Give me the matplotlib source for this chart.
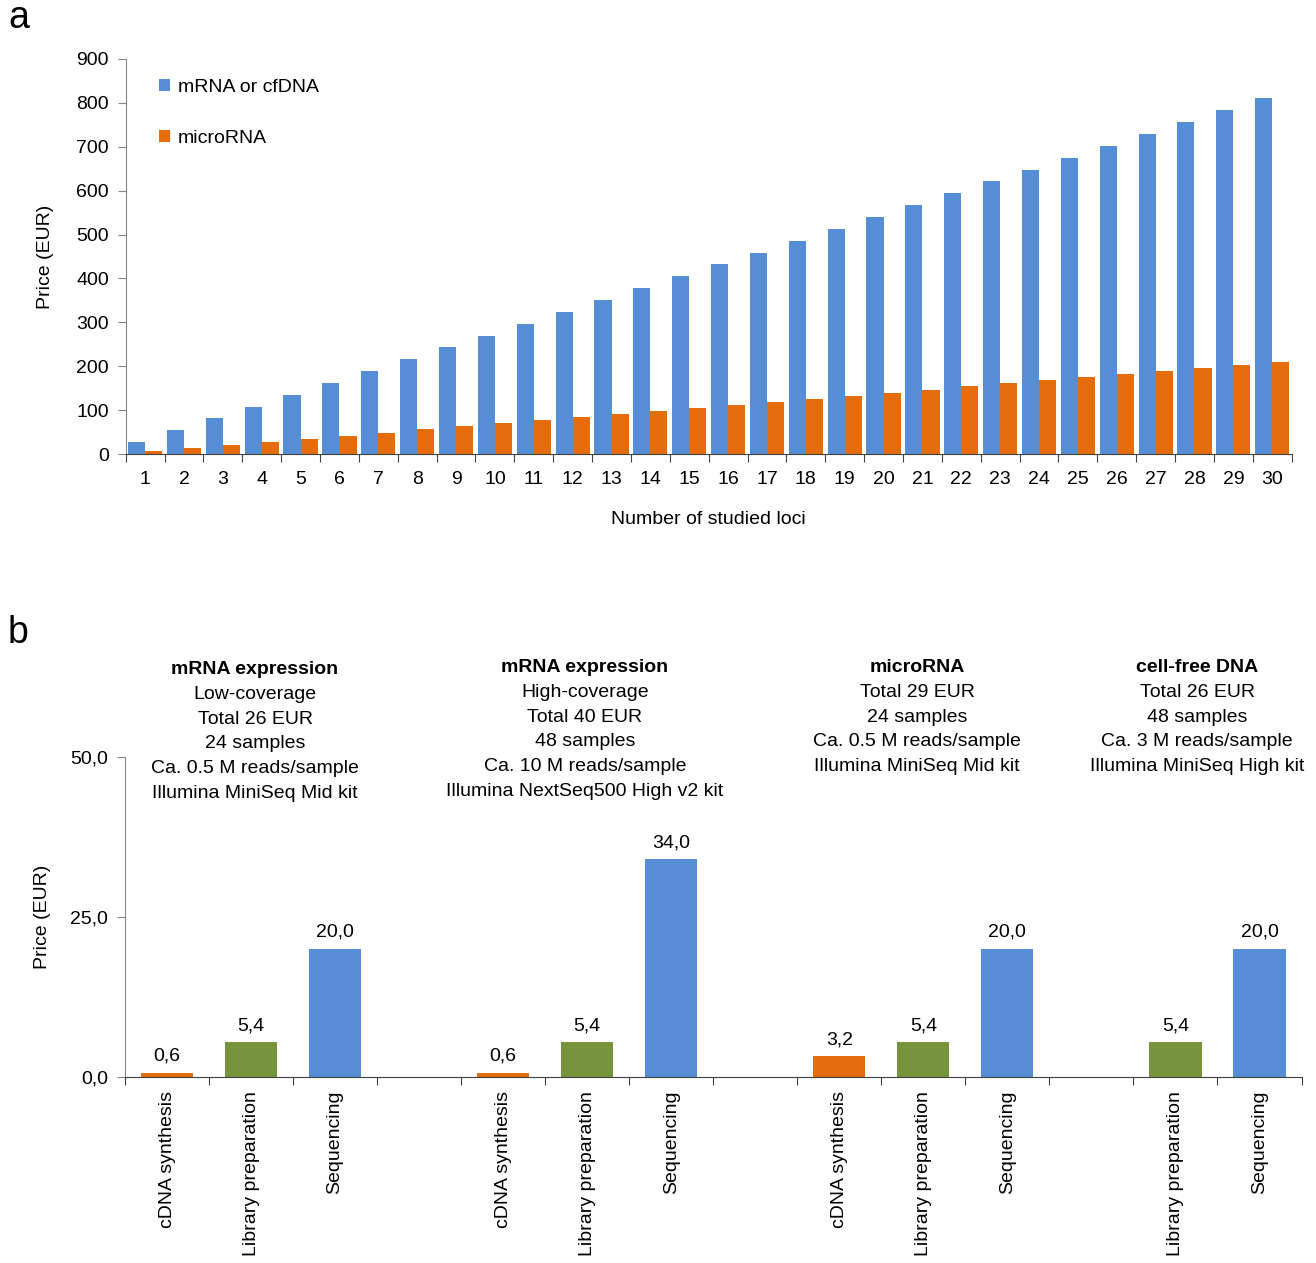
import numpy as np
import matplotlib.pyplot as plt
from matplotlib.ticker import FixedLocator, NullFormatter, FixedFormatter

plt.rcParams['font.family'] = ['Liberation Sans', 'DejaVu Sans']

# panel a: price vs number of loci
loci = list(range(1, 31))
price_mrna = [27, 54, 81, 108, 135, 162, 189, 216, 243, 270,
              297, 324, 351, 378, 405, 432, 459, 486, 513, 540,
              567, 594, 621, 648, 675, 702, 729, 756, 783, 810]
price_mirna = [7, 14, 21, 28, 35, 42, 49, 56, 63, 70,
               77, 84, 91, 98, 105, 112, 119, 126, 133, 140,
               147, 154, 161, 168, 175, 182, 189, 196, 203, 210]

# panel b: per-sample cost of each step, blank slots separate the workflows
steps = ['cDNA synthesis', 'Library preparation', 'Sequencing', '',
         'cDNA synthesis', 'Library preparation', 'Sequencing', '',
         'cDNA synthesis', 'Library preparation', 'Sequencing', '',
         'Library preparation', 'Sequencing']
step_cost = [0.6, 5.4, 20.0, np.nan,
             0.6, 5.4, 34.0, np.nan,
             3.2, 5.4, 20.0, np.nan,
             5.4, 20.0]
workflow_titles = ['mRNA expression', 'mRNA expression', 'microRNA', 'cell-free DNA']
workflow_details = [
    ['Low-coverage', 'Total 26 EUR', '24 samples',
     'Ca. 0.5 M reads/sample', 'Illumina MiniSeq Mid kit'],
    ['High-coverage', 'Total 40 EUR', '48 samples',
     'Ca. 10 M reads/sample', 'Illumina NextSeq500 High v2 kit'],
    ['Total 29 EUR', '24 samples',
     'Ca. 0.5 M reads/sample', 'Illumina MiniSeq Mid kit'],
    ['Total 26 EUR', '48 samples',
     'Ca. 3 M reads/sample', 'Illumina MiniSeq High kit'],
]

BLUE = '#558ed5'
ORANGE = '#e46c0a'
GREEN = '#77933c'
step_colors = {'cDNA synthesis': ORANGE, 'Library preparation': GREEN,
               'Sequencing': BLUE, '': 'none'}
FS = 14


def style_axes(ax):
    for side in ('top', 'right'):
        ax.spines[side].set_visible(False)
    ax.spines['left'].set_color('#868686')
    ax.spines['bottom'].set_color('#404040')
    ax.tick_params(axis='y', direction='out', length=6, color='#868686',
                   labelsize=FS, pad=6)


def category_ticks(ax, n, labels, rotation=0, pad=10):
    # tick marks on category borders, labels in the middle of each slot
    ax.xaxis.set_major_locator(FixedLocator(np.arange(n + 1) - 0.5))
    ax.xaxis.set_major_formatter(NullFormatter())
    ax.xaxis.set_minor_locator(FixedLocator(np.arange(n)))
    ax.xaxis.set_minor_formatter(FixedFormatter(labels))
    ax.tick_params(axis='x', which='major', direction='out', length=6,
                   color='#404040')
    ax.tick_params(axis='x', which='minor', length=0, labelsize=FS,
                   pad=pad, labelrotation=rotation)


fig = plt.figure(figsize=(13.16, 12.63), dpi=100)

# ---- panel a
ax_a = fig.add_axes([0.0955, 0.6405, 0.886, 0.3128])
x = np.arange(len(loci))
w = 0.44
ax_a.bar(x - w / 2, price_mrna, w, color=BLUE, label='mRNA or cfDNA')
ax_a.bar(x + w / 2, price_mirna, w, color=ORANGE, label='microRNA')
ax_a.set_xlim(-0.5, len(loci) - 0.5)
ax_a.set_ylim(0, 900)
ax_a.set_yticks(range(0, 901, 100))
style_axes(ax_a)
category_ticks(ax_a, len(loci), [str(n) for n in loci], pad=12)
ax_a.set_xlabel('Number of studied loci', fontsize=FS, labelpad=17)
ax_a.set_ylabel('Price (EUR)', fontsize=FS, labelpad=16)
ax_a.legend(loc='upper left', bbox_to_anchor=(0.02, 0.975), frameon=False,
            fontsize=FS, handlelength=0.6, handleheight=0.6,
            handletextpad=0.4, labelspacing=1.75, borderpad=0)

# ---- panel b
ax_b = fig.add_axes([0.095, 0.1473, 0.894, 0.2533])
xb = np.arange(len(steps))
bars = ax_b.bar(xb, step_cost, 0.62,
                color=[step_colors[s] for s in steps])
value_text = ['' if np.isnan(v) else f'{v:.1f}'.replace('.', ',')
              for v in step_cost]
ax_b.bar_label(bars, labels=value_text, padding=6, fontsize=FS)
ax_b.set_xlim(-0.5, len(steps) - 0.5)
ax_b.set_ylim(0, 50)
ax_b.set_yticks([0, 25, 50])
ax_b.set_yticklabels(['0,0', '25,0', '50,0'])
style_axes(ax_b)
category_ticks(ax_b, len(steps), steps, rotation=90, pad=10)
for lbl in ax_b.xaxis.get_minorticklabels():
    lbl.set_va('top')
ax_b.set_ylabel('Price (EUR)', fontsize=FS, labelpad=14)

# workflow descriptions above the bars
header_x = [255, 585, 917, 1197]
header_top = [670, 668, 668, 668]
line_step = 24.6
W, H = 1316, 1263
for hx, hy, title, details in zip(header_x, header_top,
                                  workflow_titles, workflow_details):
    fig.text(hx / W, 1 - hy / H, title, fontsize=FS, fontweight='bold',
             ha='center', va='center')
    for k, line in enumerate(details, start=1):
        fig.text(hx / W, 1 - (hy + k * line_step) / H, line, fontsize=FS,
                 ha='center', va='center')

fig.text(8 / W, 1 - 28 / H, 'a', fontsize=27, va='baseline')
fig.text(8 / W, 1 - 643 / H, 'b', fontsize=27, va='baseline')

fig.savefig('out.png', dpi=100)
